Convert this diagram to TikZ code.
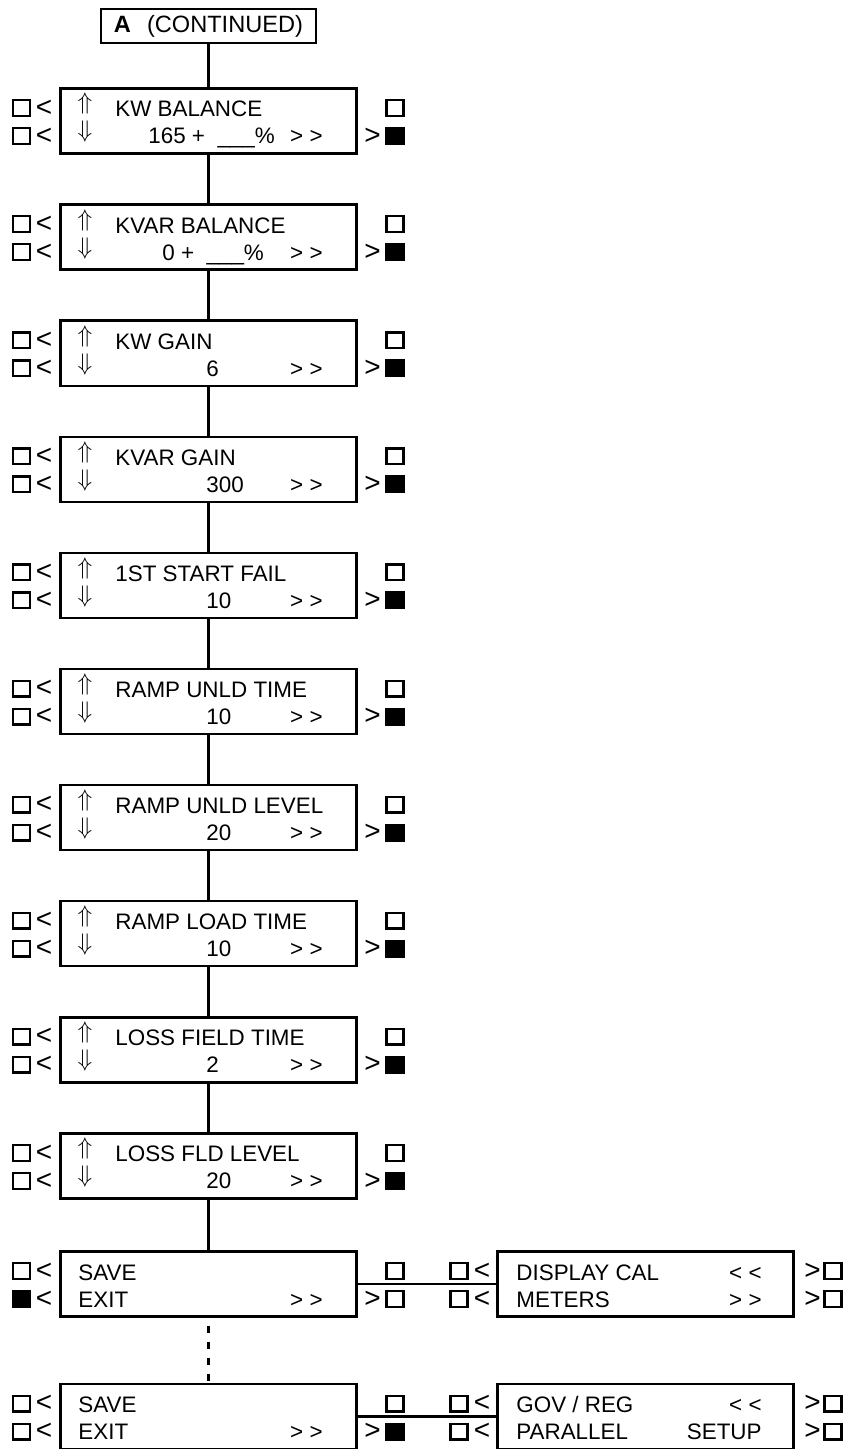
\documentclass[tikz,border=0pt]{standalone}
\usepackage{fontspec}
\setmainfont{Liberation Sans}
\tikzset{
  scr/.style={draw, line width=1.2pt, minimum width=148pt, minimum height=32.5pt, inner sep=0pt},
  txt/.style={anchor=base west, inner sep=0pt},
  txtr/.style={txt, anchor=base east},
  btn/.style={draw, line width=1.2pt, minimum width=8.5pt, minimum height=7.8pt, inner sep=0pt},
  btnon/.style={btn, fill=black},
  arw/.style={inner sep=0pt, font=\fontsize{14}{14}\selectfont},
  updn/.style={inner sep=0pt, font=\fontsize{13}{13}\selectfont},
  wire/.style={line width=1.2pt},
}
\begin{document}
\begin{tikzpicture}[x=0.5pt, y=-0.5pt, font=\fontsize{11.2}{13}\selectfont]
    \useasboundingbox (0,0) rectangle (846,1449);
    % header
    \node[scr, minimum width=107.5pt, minimum height=17pt, font=\fontsize{11.8}{13}\selectfont] (cont) at (208.5,26) {\textbf{A}\hspace{8pt}(CONTINUED)};

    % parameter screens
    \foreach \ttl/\val/\vx [count=\i] in {KW BALANCE/165 + \ \_\_\_\%/148, KVAR BALANCE/0 + \ \_\_\_\%/162,
        KW GAIN/6/206, KVAR GAIN/300/206, 1ST START FAIL/10/206, RAMP UNLD TIME/10/206,
        RAMP UNLD LEVEL/20/206, RAMP LOAD TIME/10/206, LOSS FIELD TIME/2/206, LOSS FLD LEVEL/20/206} {
        \pgfmathsetmacro\yc{121+116.1*(\i-1)}
        \node[scr] (m\i) at (208.5,\yc) {};
        \node[updn] (m\i-up) at (85,\yc-17) {$\Uparrow$};
        \node[updn] (m\i-dn) at (85,\yc+11) {$\Downarrow$};
        \node[txt] (m\i-t) at (115,\yc-4) {\ttl};
        \node[txt] (m\i-v) at (\vx,\yc+23) {\val};
        \node[txtr] (m\i-n) at (323,\yc+23) {> >};
        % keys
        \node[btn] (m\i-l1) at (21.5,\yc-13) {};
        \node[btn] (m\i-l2) at (21.5,\yc+15) {};
        \node[arw] (m\i-a1) at (44,\yc-13) {<};
        \node[arw] (m\i-a2) at (44,\yc+15) {<};
        \node[btn] (m\i-r1) at (395,\yc-13) {};
        \node[arw] (m\i-a3) at (372.5,\yc+15) {>};
        \node[btnon] (m\i-r2) at (395,\yc+15) {};
    }

    % save / exit screens
    \node[scr] (save) at (208.5,1284) {};
    \node[scr] (saveb) at (208.5,1416.5) {};
    \node[scr] (cal) at (645.5,1284) {};
    \node[scr] (gov) at (645.5,1416.5) {};
    \node[txt] (save-s) at (78,1280) {SAVE};
    \node[txt] (save-e) at (78,1307) {EXIT};
    \node[txtr] (save-n) at (323,1307) {> >};
    \node[txt] (saveb-s) at (78,1412.5) {SAVE};
    \node[txt] (saveb-e) at (78,1439.5) {EXIT};
    \node[txtr] (saveb-n) at (323,1439.5) {> >};
    \node[txt] (cal-t) at (516,1280) {DISPLAY CAL};
    \node[txtr] (cal-p) at (762,1280) {< <};
    \node[txt] (cal-m) at (516,1307) {METERS};
    \node[txtr] (cal-n) at (762,1307) {> >};
    \node[txt] (gov-t) at (516,1412.5) {GOV / REG};
    \node[txtr] (gov-p) at (762,1412.5) {< <};
    \node[txt] (gov-m) at (516,1439.5) {PARALLEL};
    \node[txtr] (gov-n) at (762,1439.5) {SETUP};
    \foreach \nm/\yc/\lb/\rb in {save/1284/btnon/btn, saveb/1416.5/btn/btnon} {
        \node[btn] (\nm-l1) at (21.5,\yc-13) {};
        \node[\lb] (\nm-l2) at (21.5,\yc+15) {};
        \node[arw] (\nm-a1) at (44,\yc-13) {<};
        \node[arw] (\nm-a2) at (44,\yc+15) {<};
        \node[btn] (\nm-r1) at (395,\yc-13) {};
        \node[arw] (\nm-a3) at (372.5,\yc+15) {>};
        \node[\rb] (\nm-r2) at (395,\yc+15) {};
        \node[btn] (\nm-c1) at (459,\yc-13) {};
        \node[btn] (\nm-c2) at (459,\yc+15) {};
        \node[arw] (\nm-a4) at (482,\yc-13) {<};
        \node[arw] (\nm-a5) at (482,\yc+15) {<};
        \node[arw] (\nm-a6) at (812.5,\yc-13) {>};
        \node[arw] (\nm-a7) at (812.5,\yc+15) {>};
        \node[btn] (\nm-d1) at (833,\yc-13) {};
        \node[btn] (\nm-d2) at (833,\yc+15) {};
    }

    % connectors
    \draw[wire] (cont) -- (m1);
    \foreach \i [remember=\i as \j (initially 1)] in {2,...,10}
        \draw[wire] (m\j) -- (m\i);
    \draw[wire] (m10) -- (save);
    \draw[wire] (save) -- (cal);
    \draw[wire] (saveb) -- (gov);
    \draw[wire, dash pattern=on 3.5pt off 4.5pt, dash phase=4pt] (save) -- (saveb);
\end{tikzpicture}
\end{document}
